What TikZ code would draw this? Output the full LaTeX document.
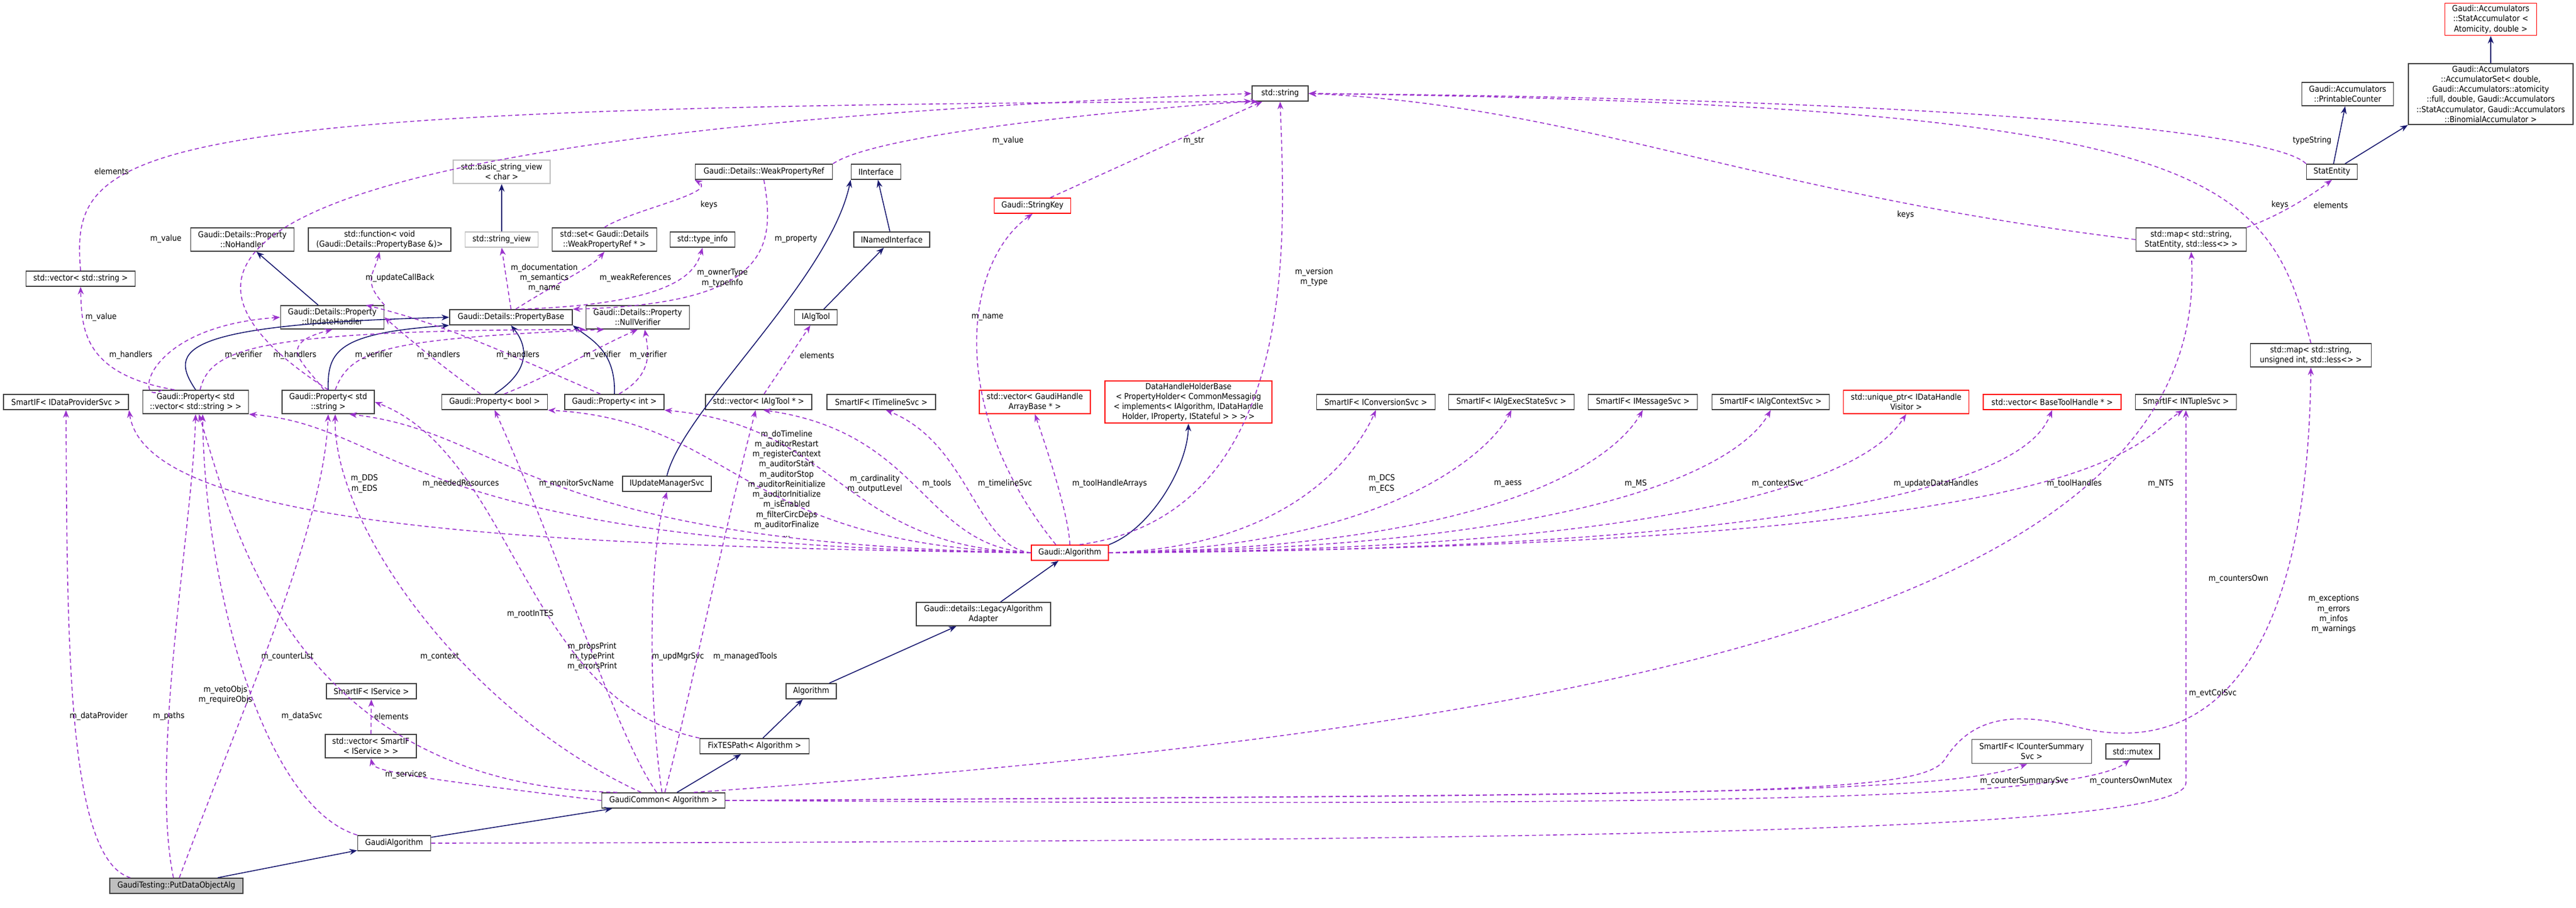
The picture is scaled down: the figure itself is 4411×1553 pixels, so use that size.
\documentclass[tikz,border=0pt]{standalone}
\usepackage{fontspec}
\setmainfont{DejaVu Sans Condensed}
\usetikzlibrary{arrows.meta}
\definecolor{inhc}{RGB}{25,25,112}
\definecolor{usec}{RGB}{154,50,205}
\definecolor{grayb}{RGB}{191,191,191}
\newcommand\lf{\fontsize{4pt}{4.9pt}\selectfont}
\newcommand\lbl[4]{\node[lab] (#1) at (#2,#3) {#4};}
\begin{document}
\begin{tikzpicture}[x=0.01cm,y=-0.01cm,
  nb/.style={draw=black!75,line width=0.5pt,fill=white,font=\lf,align=center,inner sep=1pt},
  box/.style={nb},
  rbox/.style={nb,draw=red},
  gbox/.style={nb,draw=grayb},
  lab/.style={font=\lf,align=center,inner sep=0pt},
  inh/.style={draw=inhc,line width=0.45pt,-{Stealth[length=1.3mm,width=1mm]}},
  use/.style={draw=usec,line width=0.45pt,dash pattern=on 0.7mm off 0.5mm,-{Stealth[length=1.3mm,width=1mm]}}]
\useasboundingbox (0,0) rectangle (4411,1553);
\fill[white] (0,0) rectangle (4411,1553);
% nodes
\node[box,fill=grayb,minimum width=2.28cm,minimum height=0.26cm] (put) at (302,1516) {GaudiTesting::PutDataObjectAlg};
\node[box,minimum width=1.25cm,minimum height=0.26cm] (galg) at (675,1443) {GaudiAlgorithm};
\node[box,minimum width=2.11cm,minimum height=0.26cm] (gcom) at (1136,1370) {GaudiCommon< Algorithm >};
\node[box,minimum width=1.87cm,minimum height=0.26cm] (fixtes) at (1292,1277) {FixTESPath< Algorithm >};
\node[box,minimum width=0.86cm,minimum height=0.26cm] (alg) at (1389,1183) {Algorithm};
\node[box,minimum width=2.30cm,minimum height=0.40cm] (legacy) at (1684,1051) {Gaudi::details::LegacyAlgorithm\\Adapter};
\node[rbox,minimum width=1.32cm,minimum height=0.26cm] (ga) at (1832,946) {Gaudi::Algorithm};
\node[rbox,minimum width=2.86cm,minimum height=0.69cm] (dhh) at (2035,688) {DataHandleHolderBase\\< PropertyHolder< CommonMessaging\\< implements< IAlgorithm, IDataHandle\\Holder, IProperty, IStateful > > > >};
\node[rbox,minimum width=1.57cm,minimum height=0.54cm] (sa) at (4265,33) {Gaudi::Accumulators\\::StatAccumulator <\\Atomicity, double >};
\node[box,minimum width=2.82cm,minimum height=0.98cm] (accset) at (4265,161) {Gaudi::Accumulators\\::AccumulatorSet< double,\\Gaudi::Accumulators::atomicity\\::full, double, Gaudi::Accumulators\\::StatAccumulator, Gaudi::Accumulators\\::BinomialAccumulator >};
\node[box,minimum width=1.57cm,minimum height=0.40cm] (pc) at (4020,161) {Gaudi::Accumulators\\::PrintableCounter};
\node[box,minimum width=0.87cm,minimum height=0.26cm] (se) at (3993,294) {StatEntity};
\node[box,minimum width=1.89cm,minimum height=0.40cm] (mapse) at (3752,410) {std::map< std::string,\\StatEntity, std::less<> >};
\node[box,minimum width=2.07cm,minimum height=0.40cm] (mapui) at (3957,608) {std::map< std::string,\\unsigned int, std::less<> >};
\node[box,minimum width=0.96cm,minimum height=0.26cm] (str) at (2192,160) {std::string};
\node[gbox,minimum width=1.66cm,minimum height=0.40cm] (bsv) at (859,294) {std::basic\_string\_view\\< char >};
\node[gbox,minimum width=1.25cm,minimum height=0.26cm] (sv) at (859,410) {std::string\_view};
\node[box,minimum width=1.77cm,minimum height=0.40cm] (noh) at (415,410) {Gaudi::Details::Property\\::NoHandler};
\node[box,minimum width=2.44cm,minimum height=0.40cm] (func) at (650,410) {std::function< void\\(Gaudi::Details::PropertyBase \&)>};
\node[box,minimum width=1.79cm,minimum height=0.40cm] (set) at (1035,410) {std::set< Gaudi::Details\\::WeakPropertyRef * >};
\node[box,minimum width=1.11cm,minimum height=0.26cm] (ti) at (1203,410) {std::type\_info};
\node[box,minimum width=1.30cm,minimum height=0.26cm] (ini) at (1527,410) {INamedInterface};
\node[box,minimum width=2.35cm,minimum height=0.26cm] (wpr) at (1308,294) {Gaudi::Details::WeakPropertyRef};
\node[box,minimum width=0.85cm,minimum height=0.26cm] (iif) at (1500,294) {IInterface};
\node[rbox,minimum width=1.31cm,minimum height=0.26cm] (sk) at (1768,352) {Gaudi::StringKey};
\node[box,minimum width=1.87cm,minimum height=0.26cm] (vstr) at (138,477) {std::vector< std::string >};
\node[box,minimum width=1.77cm,minimum height=0.40cm] (uh) at (569,543) {Gaudi::Details::Property\\::UpdateHandler};
\node[box,minimum width=2.10cm,minimum height=0.26cm] (pb) at (875,543) {Gaudi::Details::PropertyBase};
\node[box,minimum width=1.77cm,minimum height=0.40cm] (nv) at (1092,543) {Gaudi::Details::Property\\::NullVerifier};
\node[box,minimum width=0.73cm,minimum height=0.26cm] (iat) at (1397,543) {IAlgTool};
\node[box,minimum width=2.14cm,minimum height=0.26cm] (dp) at (113,688) {SmartIF< IDataProviderSvc >};
\node[box,minimum width=1.81cm,minimum height=0.40cm] (pvec) at (335,688) {Gaudi::Property< std\\::vector< std::string > >};
\node[box,minimum width=1.58cm,minimum height=0.40cm] (pstr) at (562,688) {Gaudi::Property< std\\::string >};
\node[box,minimum width=1.81cm,minimum height=0.26cm] (pbool) at (847,688) {Gaudi::Property< bool >};
\node[box,minimum width=1.70cm,minimum height=0.26cm] (pint) at (1052,688) {Gaudi::Property< int >};
\node[box,minimum width=1.52cm,minimum height=0.26cm] (iums) at (1142,828) {IUpdateManagerSvc};
\node[box,minimum width=1.82cm,minimum height=0.26cm] (vat) at (1299,688) {std::vector< IAlgTool * >};
\node[box,minimum width=1.86cm,minimum height=0.26cm] (tls) at (1509,688) {SmartIF< ITimelineSvc >};
\node[rbox,minimum width=1.90cm,minimum height=0.40cm] (ghab) at (1772,688) {std::vector< GaudiHandle\\ArrayBase * >};
\node[box,minimum width=2.03cm,minimum height=0.26cm] (cs) at (2356,688) {SmartIF< IConversionSvc >};
\node[box,minimum width=2.15cm,minimum height=0.26cm] (aes) at (2588,688) {SmartIF< IAlgExecStateSvc >};
\node[box,minimum width=1.87cm,minimum height=0.26cm] (ms) at (2813,688) {SmartIF< IMessageSvc >};
\node[box,minimum width=2.01cm,minimum height=0.26cm] (acs) at (3032,688) {SmartIF< IAlgContextSvc >};
\node[rbox,minimum width=2.15cm,minimum height=0.40cm] (uptr) at (3264,688) {std::unique\_ptr< IDataHandle\\Visitor >};
\node[rbox,minimum width=2.36cm,minimum height=0.26cm] (bth) at (3514,688) {std::vector< BaseToolHandle * >};
\node[box,minimum width=1.73cm,minimum height=0.26cm] (nts) at (3743,688) {SmartIF< INTupleSvc >};
\node[box,minimum width=2.05cm,minimum height=0.41cm] (css) at (3479,1286) {SmartIF< ICounterSummary\\Svc >};
\node[box,minimum width=0.92cm,minimum height=0.26cm] (mutex) at (3652,1286) {std::mutex};
\node[box,minimum width=1.54cm,minimum height=0.26cm] (sis) at (636,1183) {SmartIF< IService >};
\node[box,minimum width=1.56cm,minimum height=0.40cm] (vsis) at (635,1277) {std::vector< SmartIF\\< IService > >};
% inheritance
\draw[inh] (put) -- (galg);
\draw[inh] (galg) -- (gcom);
\draw[inh] (gcom) -- (fixtes);
\draw[inh] (fixtes) -- (alg);
\draw[inh] (alg) -- (legacy);
\draw[inh] (legacy) -- (ga);
\draw[inh] (ga.north east) .. controls (1970,905) and (2033,800) .. (dhh.south);
\draw[inh] (se) -- (pc);
\draw[inh] (se) -- (accset.south west);
\draw[inh] (accset) -- (sa);
\draw[inh] (sv) -- (bsv);
\draw[inh] (uh) -- (noh);
\draw[inh] (pvec.north) .. controls (290,600) and (300,555) .. (pb.west);
\draw[inh] (pstr.north) .. controls (560,600) and (580,570) .. (pb.south west);
\draw[inh] (pbool.north) .. controls (900,640) and (910,600) .. (pb.south);
\draw[inh] (pint.north) .. controls (1055,600) and (1010,580) .. (pb.south east);
\draw[inh] (iat) -- (ini);
\draw[inh] (ini) -- (iif);
\draw[inh] (iums.north) .. controls (1170,700) and (1420,480) .. (iif.south west);
% usage edges
\draw[use] (put.170) .. controls (115,1470) and (115,1100) .. (dp.south);
\draw[use] (put.110) .. controls (256,1300) and (330,900) .. (pvec.south);
\draw[use] (put.70) .. controls (420,1200) and (555,900) .. (pstr.south);
\draw[use] (galg.north west) .. controls (450,1380) and (350,1000) .. (pvec.300);
\draw[use] (galg.east) .. controls (2800,1440) and (3743,1420) .. (3743,1340) -- (nts.south);
\draw[use] (gcom.west) .. controls (700,1330) and (640,1320) .. (vsis.south);
\draw[use] (gcom.170) .. controls (500,1345) and (400,900) .. (pvec.285);
\draw[use] (gcom.160) .. controls (800,1220) and (570,900) .. (pstr.300);
\draw[use] (gcom.130) .. controls (1050,1250) and (960,950) .. (pbool.south);
\draw[use] (gcom.100) .. controls (1110,1200) and (1110,950) .. (iums.south);
\draw[use] (gcom.80) .. controls (1180,1200) and (1230,950) .. (vat.250);
\draw[use] (gcom.15) .. controls (2700,1250) and (3790,1050) .. (mapse.south);
\draw[use] (gcom.east) .. controls (3000,1360) and (3290,1360) .. (3330,1300) .. controls (3380,1220) and (3460,1220) .. (3560,1245) .. controls (3700,1280) and (3950,1250) .. (mapui.south);
\draw[use] (gcom.east) .. controls (2800,1360) and (3330,1360) .. (css.250);
\draw[use] (gcom.east) .. controls (2900,1380) and (3560,1370) .. (mutex.250);
\draw[use] (fixtes.north west) .. controls (900,1200) and (880,780) .. (pstr.east);
\draw[use] (vsis) -- (sis);
% Gaudi::Algorithm
\draw[use] (ga.west) .. controls (900,935) and (250,900) .. (dp.south east);
\draw[use] (ga.west) .. controls (684,935) and (684,730) .. (pvec.south east);
\draw[use] (ga.west) .. controls (900,930) and (870,740) .. (pstr.330);
\draw[use] (ga.west) .. controls (1260,930) and (1260,720) .. (pbool.south east);
\draw[use] (ga.west) .. controls (1440,935) and (1440,730) .. (pint.south east);
\draw[use] (ga.west) .. controls (1580,935) and (1580,740) .. (vat.300);
\draw[use] (ga.west) .. controls (1670,935) and (1660,760) .. (tls.300);
\draw[use] (ga.north) .. controls (1830,880) and (1790,760) .. (ghab.south);
\draw[use] (ga.150) .. controls (1620,700) and (1650,450) .. (sk.south);
\draw[use] (ga.40) .. controls (2230,880) and (2200,400) .. (str.south);
\draw[use] (ga.east) .. controls (2230,935) and (2330,760) .. (cs.south);
\draw[use] (ga.east) .. controls (2400,935) and (2560,760) .. (aes.south);
\draw[use] (ga.east) .. controls (2630,935) and (2780,760) .. (ms.south);
\draw[use] (ga.east) .. controls (2840,935) and (3000,760) .. (acs.south);
\draw[use] (ga.east) .. controls (3100,940) and (3230,760) .. (uptr.south);
\draw[use] (ga.east) .. controls (3400,940) and (3490,760) .. (bth.south);
\draw[use] (ga.east) .. controls (3620,935) and (3650,760) .. (nts.250);
% properties
\draw[use] (pvec.160) .. controls (230,700) and (240,560) .. (uh.west);
\draw[use] (pvec.70) .. controls (360,600) and (420,565) .. (nv.south west);
\draw[use] (pvec.150) .. controls (140,640) and (140,560) .. (vstr.south);
\draw[use] (pstr.110) .. controls (520,620) and (470,590) .. (uh.south);
\draw[use] (pstr.60) .. controls (600,600) and (650,580) .. (nv.200);
\draw[use] (pbool.150) .. controls (760,630) and (700,580) .. (uh.east);
\draw[use] (pbool.40) .. controls (950,640) and (1010,600) .. (nv.south);
\draw[use] (pint.150) .. controls (900,620) and (780,560) .. (uh.20);
\draw[use] (pint.60) .. controls (1120,640) and (1110,600) .. (nv.300);
\draw[use] (pstr.north) .. controls (240,460) and (300,230) .. (str.west);
\draw[use] (vstr.north) .. controls (120,250) and (200,180) .. (str.200);
\draw[use] (pb.north) -- (sv.south);
\draw[use] (pb.60) .. controls (960,480) and (1010,460) .. (set.south);
\draw[use] (pb.40) .. controls (1150,520) and (1190,470) .. (ti.south);
\draw[use] (wpr.south) .. controls (1330,430) and (1310,520) .. (pb.north east);
\draw[use] (set.north) .. controls (1080,360) and (1230,330) .. (wpr.south west);
\draw[use] (wpr.north east) .. controls (1500,230) and (1900,190) .. (str.195);
\draw[use] (uh.north east) .. controls (620,480) and (640,470) .. (func.south);
\draw[use] (sk) -- (str);
\draw[use] (vat) -- (iat);
\draw[use] (se.north west) .. controls (3900,230) and (3400,170) .. (str.east);
\draw[use] (mapse.west) .. controls (3000,330) and (2700,180) .. (str.east);
\draw[use] (mapse.north east) .. controls (3900,370) and (3950,340) .. (se.south);
\draw[use] (mapui.north) .. controls (3880,300) and (3800,180) .. (str.east);
% labels
\lbl{a1}{191}{293}{elements}
\lbl{a2}{284}{409}{m\_value}
\lbl{a3}{173}{543}{m\_value}
\lbl{a4}{685}{476}{m\_updateCallBack}
\lbl{a5}{932}{476}{m\_documentation\\m\_semantics\\m\_name}
\lbl{a6}{1088}{476}{m\_weakReferences}
\lbl{a7}{1214}{351}{keys}
\lbl{a8}{1237}{476}{m\_ownerType\\m\_typeinfo}
\lbl{a9}{1363}{409}{m\_property}
\lbl{a10}{1726}{241}{m\_value}
\lbl{a11}{2044}{241}{m\_str}
\lbl{a12}{1691}{543}{m\_name}
\lbl{a13}{3959}{241}{typeString}
\lbl{a14}{3904}{351}{keys}
\lbl{a15}{3991}{351}{elements}
\lbl{a16}{3263}{368}{keys}
\lbl{a17}{2250}{474}{m\_version\\m\_type}
\lbl{a18}{1399}{608}{elements}
\lbl{a19}{1347}{828}{m\_doTimeline\\m\_auditorRestart\\m\_registerContext\\m\_auditorStart\\m\_auditorStop\\m\_auditorReinitialize\\m\_auditorInitialize\\m\_isEnabled\\m\_filterCircDeps\\m\_auditorFinalize\\...}
\lbl{a20}{1498}{828}{m\_cardinality\\m\_outputLevel}
\lbl{a21}{1604}{828}{m\_tools}
\lbl{a22}{1721}{828}{m\_timelineSvc}
\lbl{a23}{1900}{828}{m\_toolHandleArrays}
\lbl{a24}{2366}{828}{m\_DCS\\m\_ECS}
\lbl{a25}{2582}{828}{m\_aess}
\lbl{a26}{2801}{828}{m\_MS}
\lbl{a27}{3044}{828}{m\_contextSvc}
\lbl{a28}{3315}{828}{m\_updateDataHandles}
\lbl{a29}{3552}{828}{m\_toolHandles}
\lbl{a30}{3700}{828}{m\_NTS}
\lbl{a31}{3833}{991}{m\_countersOwn}
\lbl{a32}{3996}{1051}{m\_exceptions\\m\_errors\\m\_infos\\m\_warnings}
\lbl{a33}{3789}{1187}{m\_evtColSvc}
\lbl{a34}{3466}{1337}{m\_counterSummarySvc}
\lbl{a35}{3649}{1337}{m\_countersOwnMutex}
\lbl{a36}{695}{1326}{m\_services}
\lbl{a37}{670}{1226}{elements}
\lbl{a38}{753}{1124}{m\_context}
\lbl{a39}{1014}{1124}{m\_propsPrint\\m\_typePrint\\m\_errorsPrint}
\lbl{a40}{1161}{1124}{m\_updMgrSvc}
\lbl{a41}{1276}{1124}{m\_managedTools}
\lbl{a42}{908}{1051}{m\_rootInTES}
\lbl{a43}{492}{1124}{m\_counterList}
\lbl{a44}{386}{1189}{m\_vetoObjs\\m\_requireObjs}
\lbl{a45}{169}{1226}{m\_dataProvider}
\lbl{a46}{289}{1226}{m\_paths}
\lbl{a47}{517}{1226}{m\_dataSvc}
\lbl{a48}{624}{828}{m\_DDS\\m\_EDS}
\lbl{a49}{789}{828}{m\_neededResources}
\lbl{a50}{987}{828}{m\_monitorSvcName}
\lbl{h1}{224}{608}{m\_handlers}
\lbl{h2}{417}{608}{m\_verifier}
\lbl{h3}{505}{608}{m\_handlers}
\lbl{h4}{640}{608}{m\_verifier}
\lbl{h5}{751}{608}{m\_handlers}
\lbl{h6}{887}{608}{m\_handlers}
\lbl{h7}{1031}{608}{m\_verifier}
\lbl{h8}{1110}{608}{m\_verifier}
\end{tikzpicture}
\end{document}
